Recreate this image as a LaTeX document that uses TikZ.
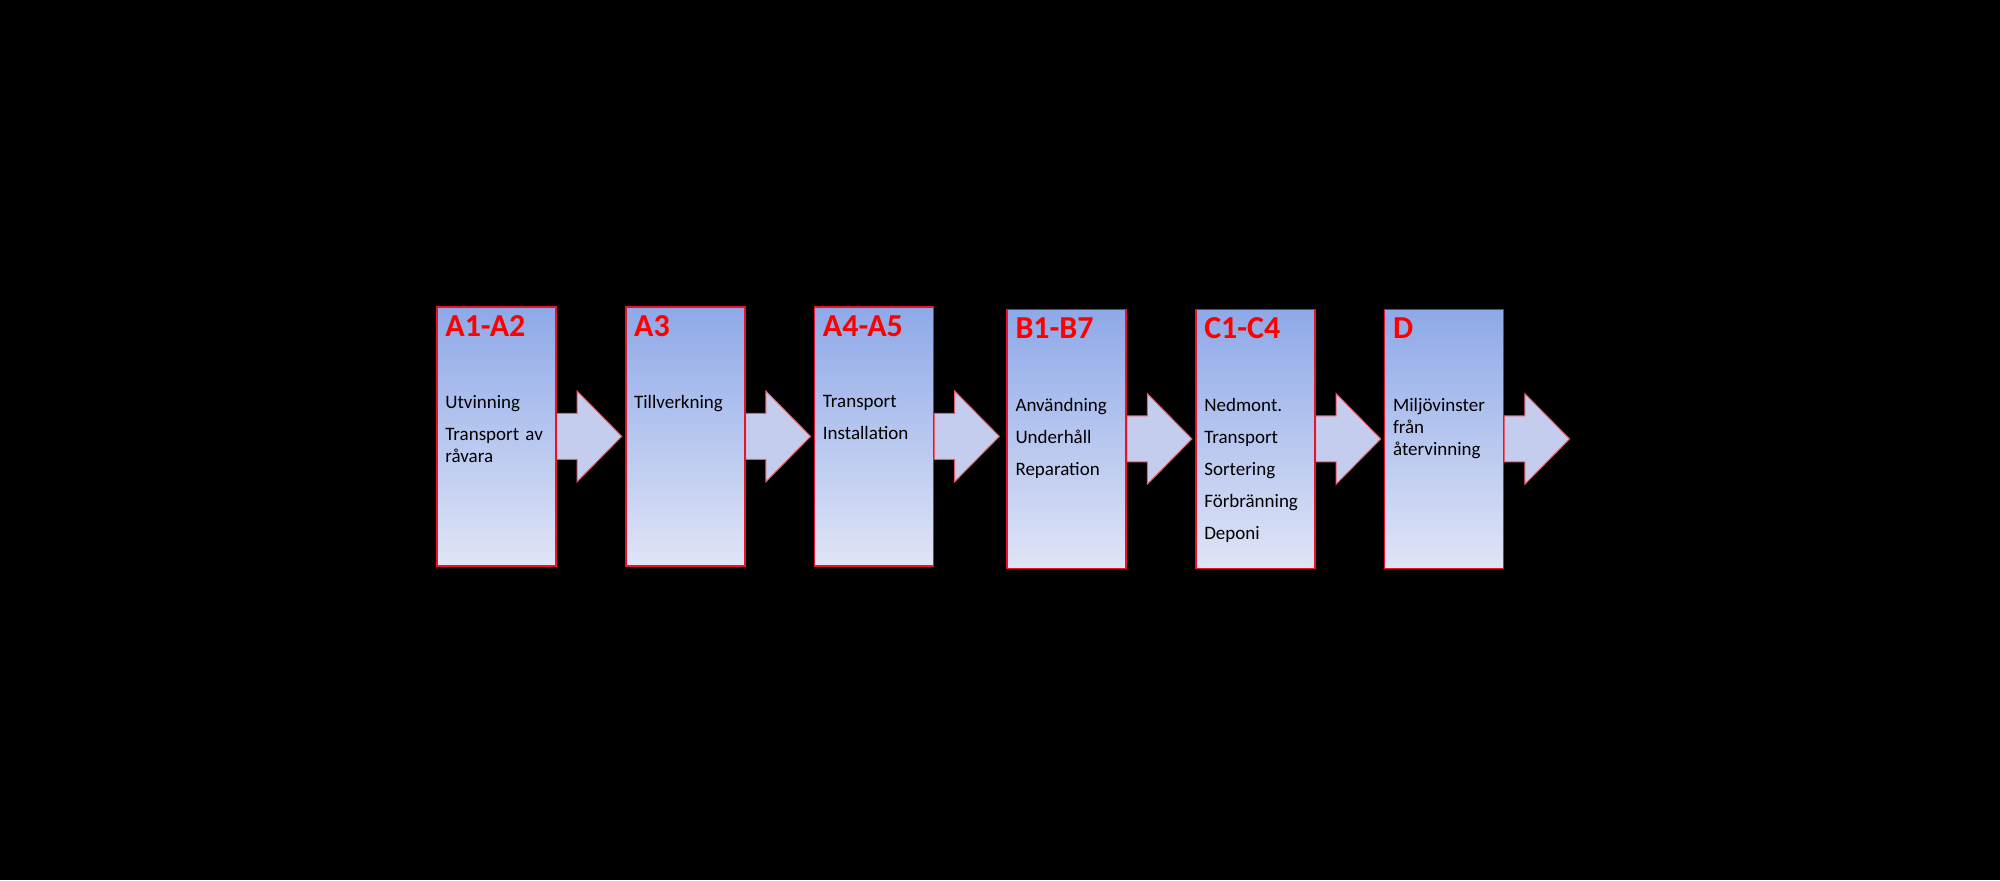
\documentclass[tikz,border=0pt]{standalone}
\usepackage{fontspec}
\setmainfont{Carlito}
\usetikzlibrary{positioning,calc}
\definecolor{boxtop}{RGB}{142,169,232}
\definecolor{boxbottom}{RGB}{224,228,246}
\definecolor{arrowfill}{RGB}{196,205,238}
\definecolor{edgered}{RGB}{230,20,40}
\tikzset{
  stagebox/.style={draw=edgered,line width=1.5pt,top color=boxtop,bottom color=boxbottom,
    minimum width=119pt,minimum height=259pt,inner sep=0pt,anchor=north west},
  stagetitle/.style={text=red,font=\fontsize{32}{36}\selectfont\bfseries,anchor=north west,inner sep=0pt},
  stagetext/.style={font=\fontsize{19}{22}\selectfont,align=left,anchor=north west,inner sep=0pt,text width=110pt},
  flowarrow/.style={draw=edgered!70,line width=1pt,fill=arrowfill}
}
\newcommand{\stagearrow}[1]{%
  \draw[flowarrow] ($(#1.east)+(0,-18)$) -- ++(16,0) -- ++(0,-17.5) -- ++(35,35.5)
    -- ++(-35,35.5) -- ++(0,-17.5) -- ++(-16,0) -- cycle;}
\begin{document}
\begin{tikzpicture}[x=1.2755pt,y=-1.2755pt]
\fill[black] (0,0) rectangle (1568,690);
\useasboundingbox (0,0) rectangle (1568,690);

% arrows first, boxes on top
\node[stagebox] (a12) at (342,240) {};
\node[stagebox] (a3) at (490,240) {};
\node[stagebox] (a45) at (638,240) {};
\node[stagebox] (b17) at (789,242) {};
\node[stagebox] (c14) at (937,242) {};
\node[stagebox] (d) at (1085,242) {};
\foreach \b in {a12,a3,a45,b17,c14,d}{\stagearrow{\b}}
\foreach \b in {a12,a3,a45,b17,c14,d}{\node[stagebox] at (\b.north west) {};}

% titles
\node[stagetitle] (ta12) at ($(a12.north west)+(7,7)$) {A1-A2};
\node[stagetitle] (ta3) at ($(a3.north west)+(7,7)$) {A3};
\node[stagetitle] (ta45) at ($(a45.north west)+(7,7)$) {A4-A5};
\node[stagetitle] (tb17) at ($(b17.north west)+(7,7)$) {B1-B7};
\node[stagetitle] (tc14) at ($(c14.north west)+(7,7)$) {C1-C4};
\node[stagetitle] (td) at ($(d.north west)+(7,7)$) {D};

% contents
\node[stagetext] (xa12) at ($(a12.north west)+(7,70)$) {Utvinning\\[10pt]Transport av\\råvara};
\node[stagetext] (xa3) at ($(a3.north west)+(7,70)$) {Tillverkning};
\node[stagetext] (xa45) at ($(a45.north west)+(7,70)$) {Transport\\[10pt]Installation};
\node[stagetext] (xb17) at ($(b17.north west)+(7,70)$) {Användning\\[10pt]Underhåll\\[10pt]Reparation};
\node[stagetext] (xc14) at ($(c14.north west)+(7,70)$) {Nedmont.\\[10pt]Transport\\[10pt]Sortering\\[10pt]Förbränning\\[10pt]Deponi};
\node[stagetext] (xd) at ($(d.north west)+(7,70)$) {Miljövinster\\från\\återvinning};
\end{tikzpicture}
\end{document}
